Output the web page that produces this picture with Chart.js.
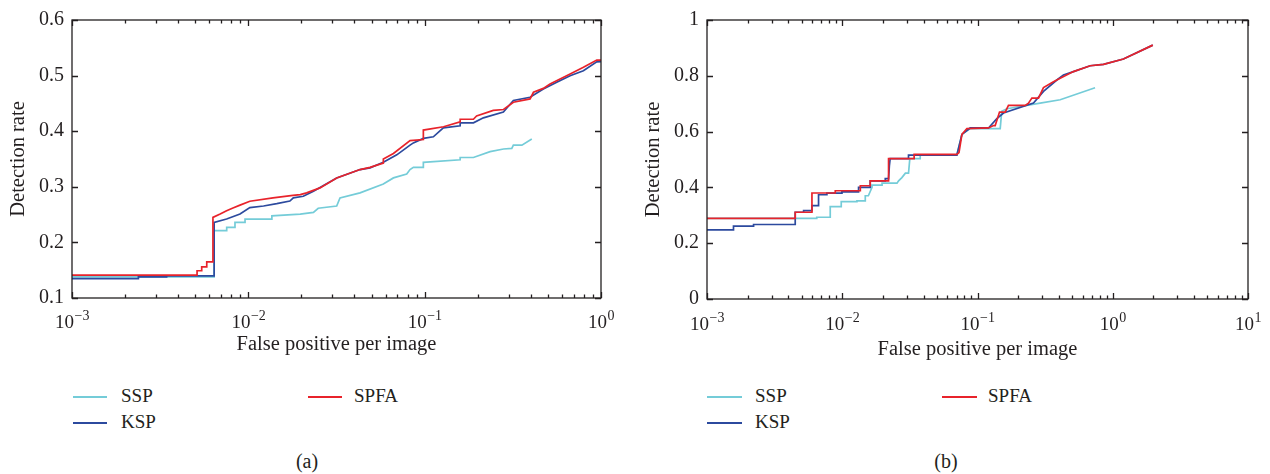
<!DOCTYPE html>
<html><head><meta charset="utf-8">
<script src="https://cdn.jsdelivr.net/npm/chart.js@4.4.1/dist/chart.umd.min.js"></script>
<style>
html,body{margin:0;padding:0;background:#fff;}
body{width:1270px;height:474px;position:relative;overflow:hidden;font-family:"Liberation Serif","Times New Roman",serif;color:#231f20;}
canvas{position:absolute;top:0;}
.lg{position:absolute;height:2px;}
.lt{position:absolute;font-size:19px;line-height:19px;white-space:nowrap;}
.cap{position:absolute;width:60px;text-align:center;font-size:20px;line-height:20px;}
</style></head><body>
<canvas id="ca" width="635" height="361" style="left:0"></canvas>
<canvas id="cb" width="635" height="366" style="left:635px"></canvas>

<div class="lg" style="left:73px;top:396px;width:34px;background:#74ccd8"></div>
<div class="lt" style="left:121px;top:386px">SSP</div>
<div class="lg" style="left:73px;top:422px;width:34px;background:#2c4a9e"></div>
<div class="lt" style="left:121px;top:412px">KSP</div>
<div class="lg" style="left:308px;top:396px;width:34px;background:#e8232b"></div>
<div class="lt" style="left:354px;top:386px">SPFA</div>
<div class="cap" style="left:277px;top:451px">(a)</div>

<div class="lg" style="left:707px;top:396px;width:35px;background:#74ccd8"></div>
<div class="lt" style="left:755px;top:386px">SSP</div>
<div class="lg" style="left:707px;top:422px;width:35px;background:#2c4a9e"></div>
<div class="lt" style="left:755px;top:412px">KSP</div>
<div class="lg" style="left:942px;top:396px;width:35px;background:#e8232b"></div>
<div class="lt" style="left:988px;top:386px">SPFA</div>
<div class="cap" style="left:916px;top:451px">(b)</div>

<script>
// ---- Panel (a) data ----
const aSSPx = [0.001,0.0064,0.0064,0.00754,0.00754,0.0084,0.0084,0.00958,0.00958,0.0136,0.0136,0.0197,0.0234,0.0249,0.0317,0.0331,0.043,0.0583,0.0665,0.0791,0.0826,0.0863,0.0983,0.0983,0.159,0.159,0.189,0.235,0.28,0.312,0.3185,0.356,0.405];
const aSSPy = [0.138,0.138,0.221,0.221,0.227,0.227,0.236,0.236,0.242,0.242,0.2477,0.2507,0.254,0.2614,0.2655,0.280,0.289,0.305,0.316,0.323,0.331,0.335,0.335,0.344,0.3486,0.3527,0.3527,0.3633,0.368,0.369,0.375,0.375,0.386];
const aKSPx = [0.001,0.00238,0.00238,0.00344,0.00344,0.0064,0.0064,0.00753,0.00897,0.0102,0.0122,0.0145,0.0172,0.018,0.0205,0.0234,0.0317,0.043,0.049,0.0583,0.0695,0.0826,0.0863,0.0983,0.112,0.1276,0.159,0.159,0.189,0.2153,0.2795,0.3185,0.396,0.471,0.561,0.668,0.7945,0.946,1.0];
const aKSPy = [0.135,0.135,0.138,0.138,0.1397,0.1397,0.236,0.242,0.251,0.2625,0.2655,0.2696,0.2744,0.280,0.283,0.292,0.316,0.331,0.334,0.344,0.3575,0.375,0.379,0.387,0.390,0.406,0.4096,0.415,0.415,0.424,0.4345,0.4553,0.461,0.476,0.488,0.4998,0.5087,0.5247,0.525];
const aSPFAx = [0.001,0.00512,0.00512,0.00544,0.00544,0.00581,0.00581,0.0063,0.0063,0.00692,0.00753,0.00818,0.00897,0.0102,0.0138,0.0179,0.0197,0.0214,0.0255,0.0317,0.043,0.049,0.0583,0.0583,0.0665,0.0826,0.0983,0.0983,0.128,0.159,0.159,0.189,0.197,0.245,0.28,0.3185,0.396,0.414,0.471,0.514,0.668,0.795,0.946,1.0];
const aSPFAy = [0.141,0.141,0.149,0.149,0.156,0.156,0.165,0.165,0.245,0.251,0.257,0.262,0.267,0.274,0.280,0.2845,0.286,0.289,0.298,0.316,0.331,0.335,0.3425,0.350,0.360,0.383,0.385,0.402,0.408,0.4167,0.4215,0.4215,0.4274,0.4375,0.439,0.452,0.458,0.470,0.477,0.485,0.503,0.515,0.528,0.528];

// ---- Panel (b) data ----
const bSSPx = [0.001,0.00648,0.00648,0.00815,0.00815,0.00983,0.00983,0.01284,0.01284,0.0148,0.0148,0.0156,0.0166,0.0166,0.0197,0.0197,0.0254,0.0261,0.0276,0.0293,0.0309,0.0316,0.0377,0.0377,0.0704,0.0767,0.0883,0.1472,0.151,0.165,0.2906,0.4087,0.74];
const bSSPy = [0.289,0.289,0.293,0.293,0.331,0.331,0.349,0.349,0.352,0.352,0.370,0.370,0.400,0.408,0.408,0.415,0.415,0.4235,0.435,0.451,0.451,0.503,0.503,0.516,0.516,0.59,0.611,0.611,0.6726,0.682,0.702,0.714,0.757];
const bKSPx = [0.001,0.00157,0.00157,0.00221,0.00221,0.00449,0.00449,0.00518,0.00518,0.00597,0.00597,0.00668,0.00668,0.0077,0.0077,0.00995,0.00995,0.0132,0.0132,0.0161,0.0161,0.0208,0.0208,0.022,0.0223,0.0226,0.0309,0.0309,0.0704,0.0767,0.0883,0.1206,0.139,0.1557,0.2594,0.3075,0.386,0.432,0.512,0.681,0.854,1.2,1.978];
const bKSPy = [0.248,0.248,0.261,0.261,0.267,0.267,0.311,0.311,0.3167,0.3167,0.3345,0.3345,0.3737,0.3737,0.3797,0.3797,0.3843,0.3843,0.400,0.400,0.4235,0.4235,0.4317,0.4317,0.477,0.503,0.503,0.516,0.516,0.59,0.613,0.613,0.6465,0.6666,0.702,0.744,0.785,0.803,0.815,0.836,0.841,0.860,0.910];
const bSPFAx = [0.001,0.00449,0.00449,0.00597,0.00597,0.00888,0.00888,0.0136,0.0136,0.0161,0.0161,0.022,0.022,0.034,0.034,0.0704,0.073,0.0767,0.0835,0.1206,0.1313,0.1351,0.1455,0.1602,0.1694,0.2252,0.2382,0.2524,0.2825,0.3075,0.3645,0.4087,0.512,0.681,0.854,1.2,1.978];
const bSPFAy = [0.289,0.289,0.311,0.311,0.380,0.380,0.388,0.388,0.406,0.406,0.4235,0.4235,0.503,0.503,0.5185,0.5185,0.525,0.59,0.611,0.613,0.6216,0.6216,0.670,0.670,0.694,0.694,0.702,0.72,0.72,0.758,0.779,0.791,0.815,0.836,0.841,0.860,0.910];

// ---- axis tick values ----
const aYTicks = [0.1,0.2,0.3,0.4,0.5,0.6];
const bYTicks = [0,0.2,0.4,0.6,0.8,1];
const xTitle = 'False positive per image';
const yTitle = 'Detection rate';
const seriesNames = ['SSP','KSP','SPFA'];
const seriesColors = ['#74ccd8','#2c4a9e','#e8232b'];
const seriesOrder = [2, 1, 0]; // SPFA drawn on top, then KSP, then SSP

const FONT = '"Liberation Serif","Times New Roman",serif';
const INK = '#231f20';
const pts = (xs, ys) => xs.map((x, i) => ({x, y: ys[i]}));

const framePlugin = {
  id: 'frame',
  afterDatasetsDraw(chart) {
    const {ctx, chartArea: a, scales: {x, y}} = chart;
    ctx.save();
    ctx.strokeStyle = INK;
    ctx.lineWidth = 1.3;
    ctx.beginPath();
    const lo = Math.round(Math.log10(x.min)), hi = Math.round(Math.log10(x.max));
    for (let d = lo; d <= hi; d++) {
      for (let k = 1; k < 10; k++) {
        const v = k * Math.pow(10, d);
        if (v > x.max * 1.0001) break;
        const px = Math.round(x.getPixelForValue(v)) + 0.5;
        const L = k === 1 ? 6 : 3.5;
        ctx.moveTo(px, a.bottom); ctx.lineTo(px, a.bottom - L);
        ctx.moveTo(px, a.top); ctx.lineTo(px, a.top + L);
      }
    }
    y.ticks.forEach(t => {
      const py = Math.round(y.getPixelForValue(t.value)) + 0.5;
      ctx.moveTo(a.left, py); ctx.lineTo(a.left + 6, py);
      ctx.moveTo(a.right, py); ctx.lineTo(a.right - 6, py);
    });
    ctx.stroke();
    ctx.strokeRect(a.left, a.top, a.right - a.left, a.bottom - a.top);

    // power-of-ten labels on the log axis: "10" with a raised exponent
    const off = chart.options.plugins.frame.base;
    ctx.fillStyle = INK;
    ctx.textBaseline = 'alphabetic';
    ctx.textAlign = 'left';
    for (let d = lo; d <= hi; d++) {
      const base = '10', ex = (d < 0 ? '\u2212' : '') + Math.abs(d);
      ctx.font = '19px ' + FONT; const wb = ctx.measureText(base).width;
      ctx.font = '14px ' + FONT; const we = ctx.measureText(ex).width;
      const px = x.getPixelForValue(Math.pow(10, d));
      const left = px - (wb + we) / 2;
      ctx.font = '19px ' + FONT; ctx.fillText(base, left, a.bottom + off);
      ctx.font = '14px ' + FONT; ctx.fillText(ex, left + wb + 0.5, a.bottom + off - 8);
    }
    ctx.restore();
  }
};

function build(id, cfg) {
  const sets = cfg.series.map((s, i) => ({
    label: seriesNames[i], data: pts(s[0], s[1]), borderColor: seriesColors[i],
    order: seriesOrder[i],
    borderWidth: 1.7, pointRadius: 0, tension: 0, fill: false
  }));
  return new Chart(document.getElementById(id), {
    type: 'line',
    data: {datasets: sets},
    options: {
      responsive: false, animation: false, devicePixelRatio: 1,
      layout: {padding: cfg.pad},
      plugins: {legend: {display: false}, tooltip: {enabled: false}, frame: {base: cfg.xBase}},
      scales: {
        x: {
          type: 'logarithmic', min: 0.001, max: cfg.xMax,
          grid: {display: false, drawTicks: false}, border: {display: false},
          ticks: {display: false},
          title: {display: true, text: xTitle, color: INK, font: {family: FONT, size: 20.5}, padding: {top: 0, bottom: 4}},
          afterFit: s => { s.height = cfg.xH; }
        },
        y: {
          type: 'linear', min: cfg.yTicks[0], max: cfg.yTicks[cfg.yTicks.length - 1],
          grid: {display: false, drawTicks: false}, border: {display: false},
          afterBuildTicks: s => { s.ticks = cfg.yTicks.map(v => ({value: v})); },
          ticks: {padding: 8, color: INK, font: {family: FONT, size: 20},
                  callback: v => String(Number(v.toFixed(2)))},
          title: {display: true, text: yTitle, color: INK, font: {family: FONT, size: 20.5}, padding: {top: 6, bottom: 0}},
          afterFit: s => { s.width = 72; }
        }
      }
    },
    plugins: [framePlugin]
  });
}

build('ca', {
  series: [[aSSPx, aSSPy], [aKSPx, aKSPy], [aSPFAx, aSPFAy]],
  xMax: 1, yTicks: aYTicks, pad: {top: 17, right: 34, left: 0, bottom: 0}, xH: 63, xBase: 30
});
build('cb', {
  series: [[bSSPx, bSSPy], [bKSPx, bKSPy], [bSPFAx, bSPFAy]],
  xMax: 10, yTicks: bYTicks, pad: {top: 18, right: 22, left: 0, bottom: 0}, xH: 67, xBase: 31
});
</script>
</body></html>
